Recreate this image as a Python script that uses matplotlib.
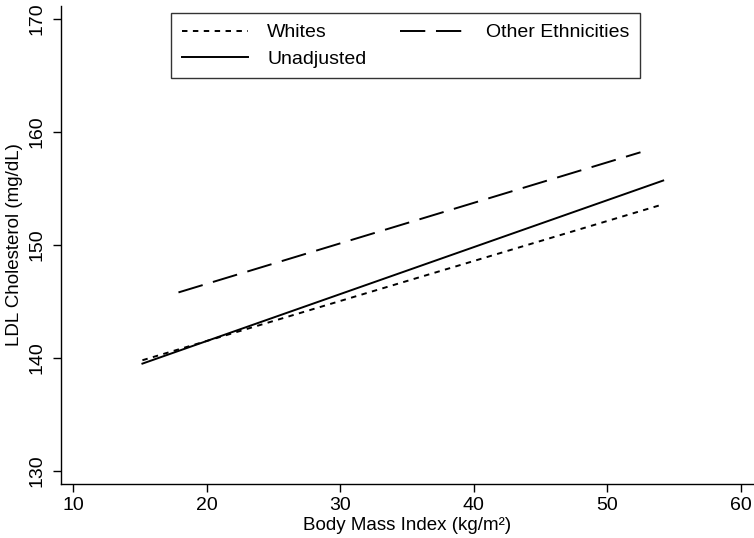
import numpy as np
import matplotlib.pyplot as plt

plt.rcParams['font.family'] = ['Liberation Sans', 'DejaVu Sans']

# Fitted regression lines: BMI endpoints and LDL cholesterol at those endpoints
whites_bmi = [15.2, 54.2]
whites_ldl = [139.8, 153.6]
other_bmi = [17.9, 52.5]
other_ldl = [145.8, 158.2]
unadj_bmi = [15.2, 54.2]
unadj_ldl = [139.5, 155.7]

xticks = [10, 20, 30, 40, 50, 60]
yticks = [130, 140, 150, 160, 170]

fig = plt.figure(figsize=(7.54, 5.38), dpi=100)
ax = fig.add_axes([0.0805, 0.1004, 0.9195, 0.8886])

l1, = ax.plot(whites_bmi, whites_ldl, color='black', lw=1.4, linestyle=(0, (2.8, 2.8)), label='Whites')
l3, = ax.plot(unadj_bmi, unadj_ldl, color='black', lw=1.4, linestyle='-', label='Unadjusted')
l2, = ax.plot(other_bmi, other_ldl, color='black', lw=1.4, linestyle=(0, (13, 5.5)), label='Other Ethnicities')

ax.set_xlim(9.08, 61)
ax.set_ylim(128.85, 171.15)
ax.set_xticks(xticks)
ax.set_yticks(yticks)
ax.tick_params(direction='out', length=6, width=1, labelsize=14, colors='black')
ax.tick_params(axis='y', pad=5)
for lab in ax.get_yticklabels():
    lab.set_rotation(90)
    lab.set_va('center')

for side in ['top', 'right']:
    ax.spines[side].set_visible(False)
for side in ['left', 'bottom']:
    ax.spines[side].set_linewidth(1)

ax.set_xlabel('Body Mass Index (kg/m²)', fontsize=13.5, labelpad=2)
ax.set_ylabel('LDL Cholesterol (mg/dL)', fontsize=13.5, labelpad=4)

leg = ax.legend(handles=[l1, l3, l2], ncol=2, fontsize=14, loc='upper left',
                bbox_to_anchor=(0.159, 0.985), borderaxespad=0, frameon=True,
                fancybox=False, edgecolor='black', handlelength=3.4,
                handletextpad=1.0, columnspacing=1.75, borderpad=0.55,
                labelspacing=0.45)
leg.get_frame().set_linewidth(1)

fig.savefig('out.png', dpi=100)
